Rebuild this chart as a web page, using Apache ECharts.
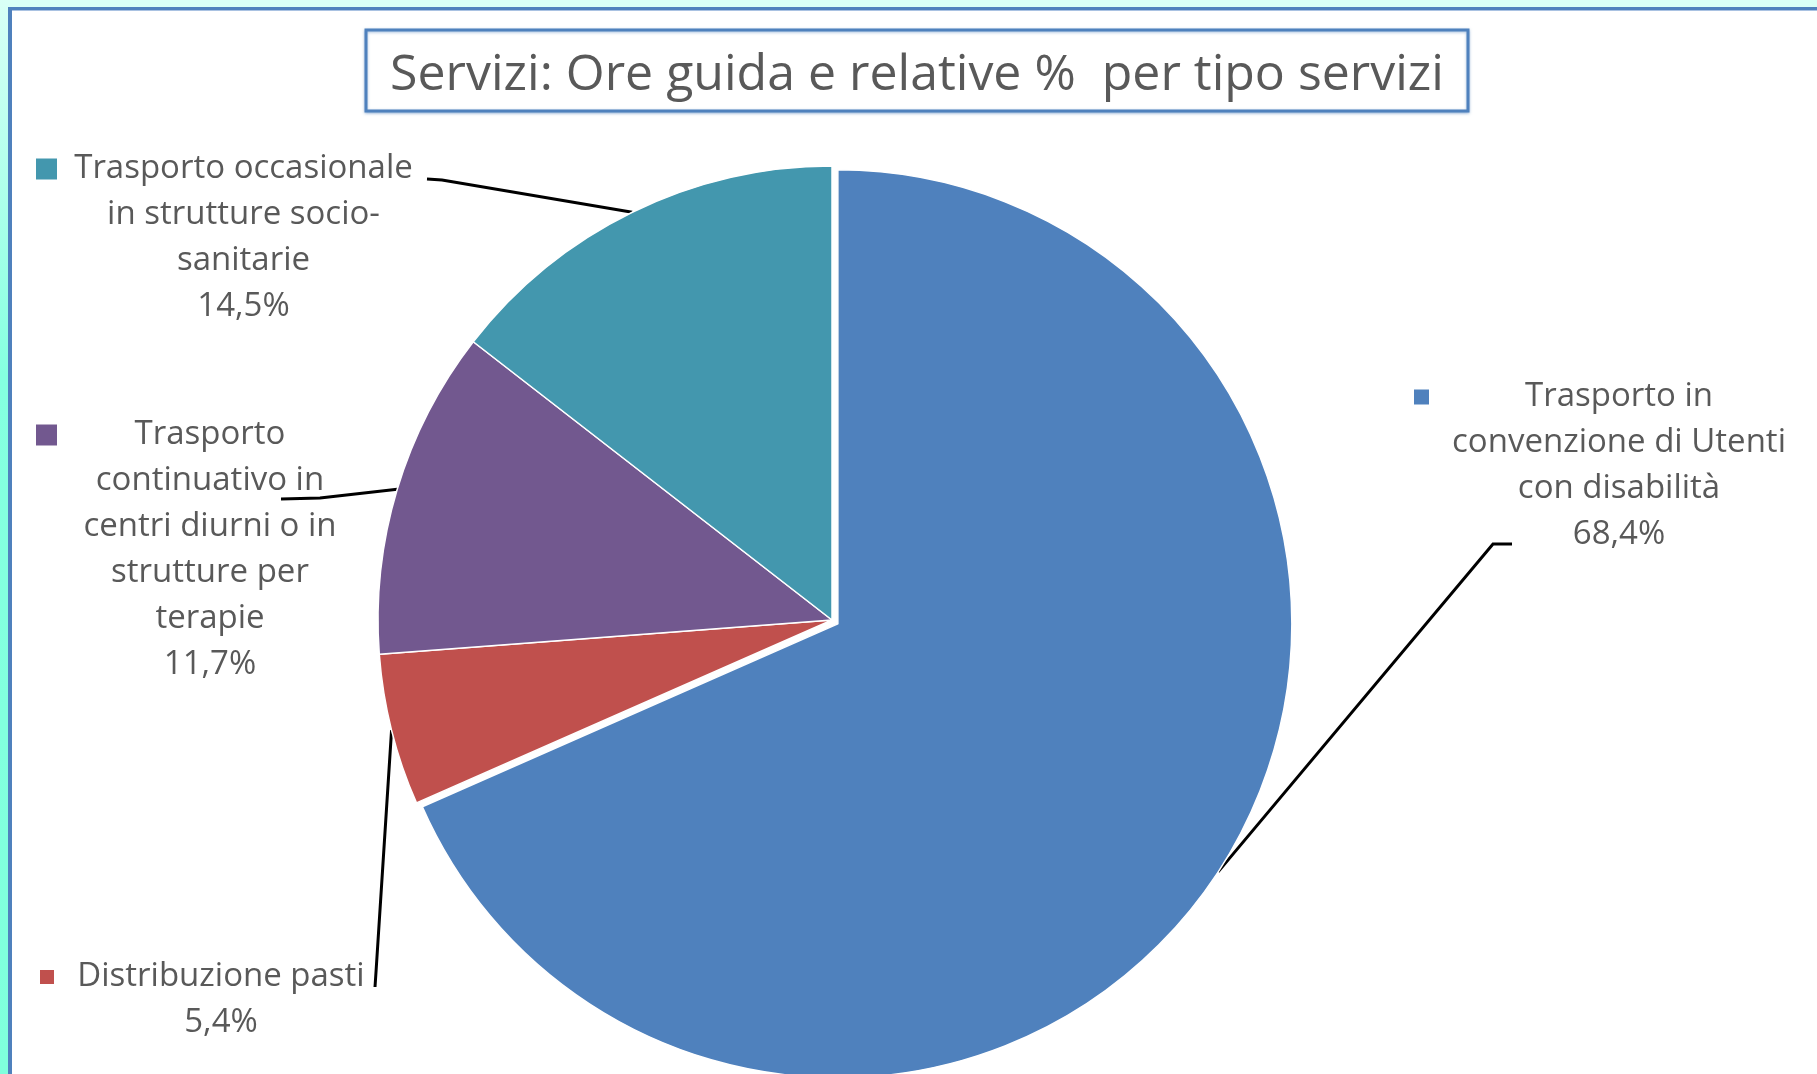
<!DOCTYPE html>
<html>
<head>
<meta charset="utf-8">
<title>Servizi: Ore guida e relative %</title>
<script src="https://cdn.jsdelivr.net/npm/echarts@6/dist/echarts.min.js"></script>
<style>
  html, body { margin: 0; padding: 0; background: #fff; }
  #main { width: 1817px; height: 1074px; }
</style>
</head>
<body>
<div id="main"></div>
<script>
// slices, clockwise from 12 o'clock
var categories = [
  'Trasporto in\nconvenzione di Utenti\ncon disabilità',
  'Distribuzione pasti',
  'Trasporto\ncontinuativo in\ncentri diurni o in\nstrutture per\nterapie',
  'Trasporto occasionale\nin strutture socio-\nsanitarie'
];
var percentages = [68.4, 5.4, 11.7, 14.5];
var colors = ['#4F81BD', '#C0504D', '#72588F', '#4397AE'];
var explodedIndex = 0; // the big blue slice is pulled out a little

// where each label block sits (top-left), key square size, gap, text column width
var labelBoxes = [
  { x: 1414, y: 374, key: 15, gap: 24, w: 332 },
  { x: 40, y: 954, key: 14, gap: 26, w: 282 },
  { x: 36, y: 412, key: 21, gap: 28, w: 250 },
  { x: 36, y: 146, key: 21, gap: 19, w: 335 }
];
// leader line bends after the point on the slice edge
var leaderBends = [
  [[1493, 544], [1512, 544]],
  [[376, 972], [375, 987]],
  [[320, 498], [281, 499]],
  [[442, 180], [427, 179]]
];

var pieCenter = [832, 620];
var pieRadius = 454;
var explodeDist = 7;

var labelFont = 'Open Sans';
var textColor = '#595959';
var clear = 'rgba(0,0,0,0)';

var total = percentages.reduce(function (a, b) { return a + b; }, 0);
// mid angle of each slice, clockwise from top
var midAngles = [];
var acc = 0;
percentages.forEach(function (v) {
  midAngles.push((acc + v / 2) / total * 2 * Math.PI);
  acc += v;
});
var explodedCenter = [
  pieCenter[0] + Math.sin(midAngles[explodedIndex]) * explodeDist,
  pieCenter[1] - Math.cos(midAngles[explodedIndex]) * explodeDist
];
function edgePoint(i) {
  var c = i === explodedIndex ? explodedCenter : pieCenter;
  return [c[0] + Math.sin(midAngles[i]) * pieRadius, c[1] - Math.cos(midAngles[i]) * pieRadius];
}

var rich = {};
labelBoxes.forEach(function (b, i) {
  rich['k' + i] = { width: b.key, height: b.key, backgroundColor: colors[i] };
  rich['g' + i] = { width: b.gap };
  rich['p' + i] = { width: b.key + b.gap };
  rich['t' + i] = {
    width: b.w, align: 'center', fontSize: 33, lineHeight: 46,
    color: textColor, fontFamily: labelFont
  };
});

var chart = echarts.init(document.getElementById('main'));

var option = {
  backgroundColor: '#fff',
  animation: false,
  graphic: [
    { type: 'rect', shape: { x: 0, y: 0, width: 1817, height: 8 }, style: { fill: '#d9fff6' }, silent: true },
    {
      type: 'rect', shape: { x: 0, y: 0, width: 8, height: 1074 }, silent: true,
      style: {
        fill: new echarts.graphic.LinearGradient(0, 0, 0, 1, [
          { offset: 0, color: '#d9fff6' },
          { offset: 0.35, color: '#85ffe0' },
          { offset: 1, color: '#7fffdc' }
        ])
      }
    },
    { type: 'rect', shape: { x: 8, y: 7, width: 1809, height: 3 }, style: { fill: '#4F81BD' }, silent: true },
    { type: 'rect', shape: { x: 8, y: 10, width: 1809, height: 1 }, style: { fill: '#a9c2e2' }, silent: true },
    { type: 'rect', shape: { x: 8, y: 7, width: 4, height: 1067 }, style: { fill: '#4F81BD' }, silent: true },
    {
      type: 'rect', shape: { x: 366, y: 30, width: 1102, height: 81 }, silent: true,
      style: { fill: '#fff', stroke: '#4F81BD', lineWidth: 3, shadowBlur: 3, shadowOffsetY: 1, shadowColor: 'rgba(79,129,189,0.5)' }
    },
    {
      type: 'text', x: 917, y: 76, silent: true,
      style: {
        text: 'Servizi: Ore guida e relative %  per tipo servizi',
        align: 'center', verticalAlign: 'middle',
        font: '50px "Open Sans"', fill: textColor
      }
    }
  ],
  series: [
    {
      // all slices except the exploded one, plus every label
      type: 'pie',
      center: pieCenter,
      radius: pieRadius,
      startAngle: 90,
      clockwise: true,
      avoidLabelOverlap: false,
      emphasis: { disabled: true },
      itemStyle: { borderColor: '#fff', borderWidth: 1.5 },
      label: {
        show: true,
        position: 'outside',
        rich: rich,
        formatter: function (p) {
          var i = p.dataIndex;
          var lines = p.name.split('\n');
          lines.push(p.value.toFixed(1).replace('.', ',') + '%');
          return lines.map(function (s, j) {
            return (j === 0 ? '{k' + i + '|}{g' + i + '|}' : '{p' + i + '|}') + '{t' + i + '|' + s + '}';
          }).join('\n');
        }
      },
      labelLine: { show: true, lineStyle: { color: '#000', width: 3 } },
      labelLayout: function (p) {
        var b = labelBoxes[p.dataIndex];
        return {
          x: b.x, y: b.y, align: 'left', verticalAlign: 'top',
          labelLinePoints: [edgePoint(p.dataIndex)].concat(leaderBends[p.dataIndex])
        };
      },
      data: categories.map(function (name, i) {
        var out = i === explodedIndex;
        return {
          name: name, value: percentages[i],
          itemStyle: out ? { color: clear, borderWidth: 0 } : { color: colors[i] }
        };
      })
    },
    {
      // the exploded slice, drawn from the shifted centre
      type: 'pie',
      silent: true,
      center: explodedCenter,
      radius: pieRadius,
      startAngle: 90,
      clockwise: true,
      emphasis: { disabled: true },
      label: { show: false },
      labelLine: { show: false },
      data: categories.map(function (name, i) {
        var out = i === explodedIndex;
        return {
          name: name, value: percentages[i],
          itemStyle: out ? { color: colors[i], borderColor: '#fff', borderWidth: 1.5 } : { color: clear, borderWidth: 0 }
        };
      })
    }
  ]
};

chart.setOption(option);
</script>
</body>
</html>
